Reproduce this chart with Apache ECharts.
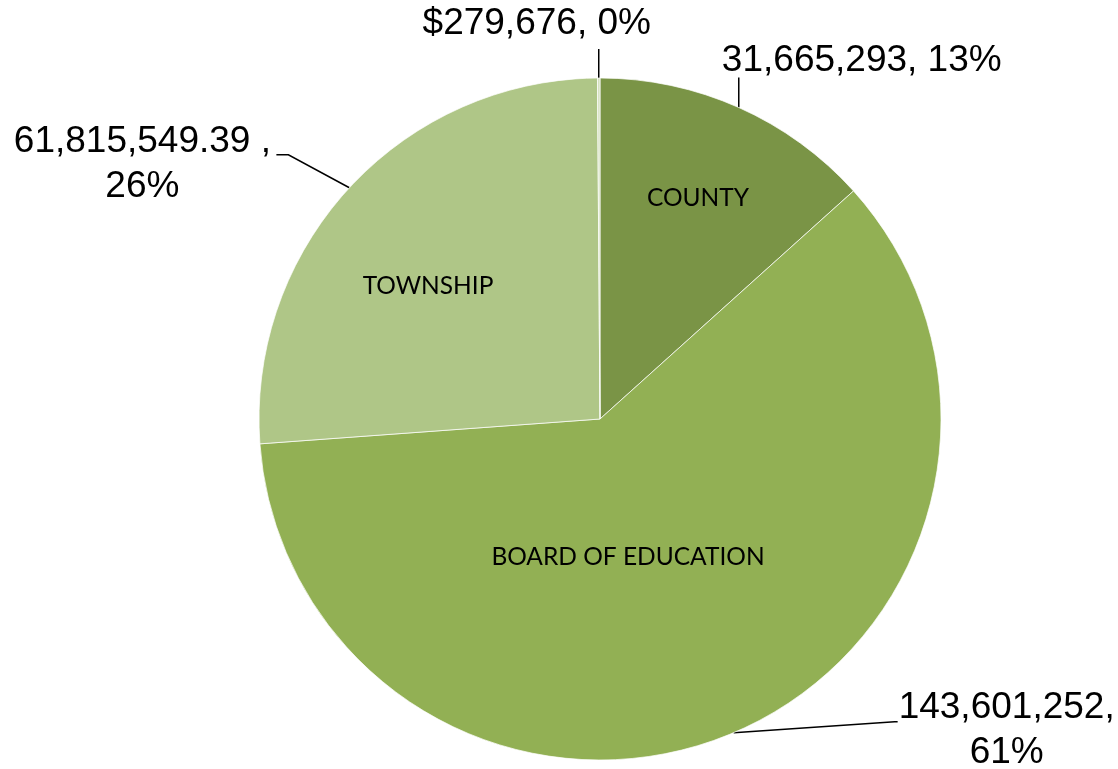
<!DOCTYPE html>
<html lang="en">
<head>
<meta charset="UTF-8">
<title>Tax levy distribution</title>
<style>
    html, body { margin: 0; padding: 0; background: #fff; }
    #pieChart { width: 1118px; height: 769px; }
</style>
</head>
<body>
<div id="pieChart"></div>
<script src="https://cdn.jsdelivr.net/npm/echarts@6/dist/echarts.min.js"></script>
<script>
    // data
    var categories = ['COUNTY', 'BOARD OF EDUCATION', 'TOWNSHIP', 'OTHER'];
    var values = [31665293, 143601252, 61815549.39, 279676];
    var sliceColors = ['#7a9446', '#92b054', '#afc687', '#d5e1bf'];

    var CX = 600, CY = 419, R = 341;

    // mid angle of each slice (degrees, counter-clockwise from 3 o'clock), start at 12 o'clock going clockwise
    var total = values.reduce(function (a, b) { return a + b; }, 0);
    var midAngles = [];
    var acc = 90;
    for (var i = 0; i < values.length; i++) {
        var sweep = values[i] / total * 360;
        midAngles.push(acc - sweep / 2);
        acc -= sweep;
    }
    function edgePoint(i) {
        var a = midAngles[i] * Math.PI / 180;
        return [CX + R * Math.cos(a), CY - R * Math.sin(a)];
    }

    function fmtValue(i) {
        var v = values[i].toLocaleString('en-US', { maximumFractionDigits: 2 });
        if (i === 3) return '$' + v;
        return v;
    }

    // outer label layout: leader line bend/end and label centre, relative to the slice edge
    var outerPlace = [
        { bend: [0, -30], end: [0, -30], text: [123, -47] },
        { bend: [161, -11], end: [164, -11], text: [273, -2] },
        { bend: [-61, -33], end: [-73, -33], text: [-207, -23] },
        { bend: [0, -29], end: [0, -29], text: [-62, -54] }
    ];
    // inner name labels, offset from pie centre
    var innerPlace = [[98, -221], [28, 138], [-172, -133], [0, 0]];

    var chart = echarts.init(document.getElementById('pieChart'));

    var option = {
        animation: false,
        series: [
            {
                name: 'values',
                type: 'pie',
                center: [CX, CY],
                radius: [0, R],
                startAngle: 90,
                clockwise: true,
                avoidLabelOverlap: false,
                percentPrecision: 0,
                itemStyle: {
                    borderColor: 'rgba(255,255,255,0.7)',
                    borderWidth: 1
                },
                label: {
                    show: true,
                    position: 'outside',
                    color: '#000',
                    fontFamily: '"Liberation Sans", Arial, sans-serif',
                    fontSize: 37,
                    lineHeight: 45,
                    align: 'center',
                    formatter: function (p) {
                        var i = p.dataIndex;
                        var v = fmtValue(i);
                        if (i === 2) return v + ' ,\n' + p.percent + '%';
                        if (i === 1) return v + ',\n' + p.percent + '%';
                        return v + ', ' + p.percent + '%';
                    }
                },
                labelLine: {
                    show: true,
                    lineStyle: { color: '#000', width: 1.5 }
                },
                labelLayout: function (p) {
                    var i = p.dataIndex;
                    var e = edgePoint(i);
                    var pl = outerPlace[i];
                    return {
                        x: e[0] + pl.text[0],
                        y: e[1] + pl.text[1],
                        align: 'center',
                        verticalAlign: 'middle',
                        labelLinePoints: [
                            e,
                            [e[0] + pl.bend[0], e[1] + pl.bend[1]],
                            [e[0] + pl.end[0], e[1] + pl.end[1]]
                        ]
                    };
                },
                data: categories.map(function (c, i) {
                    return { name: c, value: values[i], itemStyle: { color: sliceColors[i] } };
                })
            },
            {
                name: 'names',
                type: 'pie',
                center: [CX, CY],
                radius: [0, R],
                startAngle: 90,
                clockwise: true,
                silent: true,
                avoidLabelOverlap: false,
                itemStyle: { color: 'rgba(0,0,0,0)' },
                label: {
                    show: true,
                    position: 'inside',
                    color: '#000',
                    fontFamily: 'Lato, "Open Sans", sans-serif',
                    fontSize: 24.5,
                    formatter: '{b}'
                },
                labelLine: { show: false },
                labelLayout: function (p) {
                    var off = innerPlace[p.dataIndex];
                    return {
                        x: CX + off[0],
                        y: CY + off[1],
                        align: 'center',
                        verticalAlign: 'middle'
                    };
                },
                data: categories.map(function (c, i) {
                    return { name: c, value: values[i], label: { show: i < 3 } };
                })
            }
        ]
    };

    chart.setOption(option);
</script>
</body>
</html>
